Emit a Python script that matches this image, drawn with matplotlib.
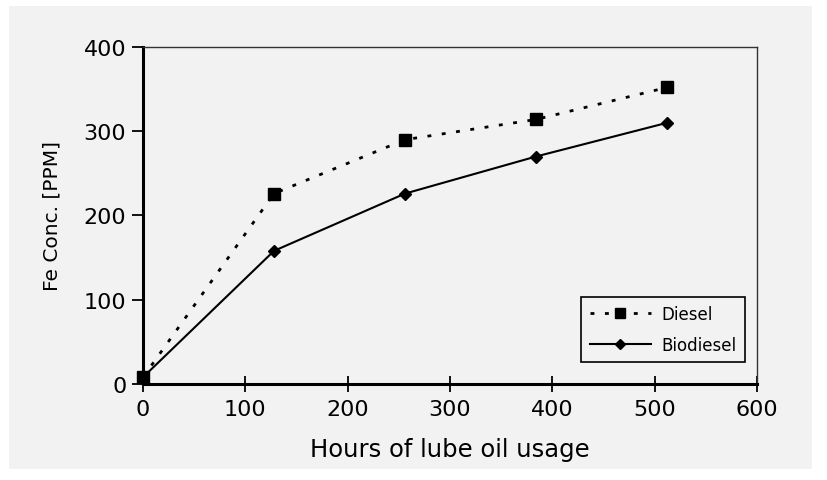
import matplotlib.pyplot as plt
from matplotlib.patches import Rectangle

plt.rcParams['font.family'] = ['DejaVu Sans']

# lube oil samples
hours = [0, 128, 256, 384, 512]
diesel = [8, 226, 290, 314, 352]
biodiesel = [8, 158, 226, 270, 310]

bg = '#f2f2f2'
fig = plt.figure(figsize=(8.28, 4.81), dpi=100)
panel = Rectangle((0.0109, 0.0229), 0.9698, 0.9626, transform=fig.transFigure,
                  facecolor=bg, edgecolor='none', zorder=-10)
fig.add_artist(panel)

ax = fig.add_axes([0.1727, 0.1996, 0.7416, 0.7006])
ax.set_facecolor(bg)

ax.plot(hours, diesel, color='black', lw=2.0, dashes=(1.4, 3.8), marker='s', ms=8.5,
        label='Diesel', clip_on=False)
ax.plot(hours, biodiesel, '-', color='black', lw=1.5, marker='D', ms=6.5,
        label='Biodiesel', clip_on=False)

ax.set_xlim(0, 600)
ax.set_ylim(0, 400)
ax.set_xticks(range(0, 601, 100))
ax.set_yticks(range(0, 401, 100))
ax.tick_params(axis='x', direction='inout', length=12, width=1.3, labelsize=16, pad=5)
ax.tick_params(axis='y', direction='out', length=8, width=1.3, labelsize=16, pad=4)

for side in ('left', 'bottom'):
    ax.spines[side].set_linewidth(2.2)
for side in ('top', 'right'):
    ax.spines[side].set_linewidth(1.0)
    ax.spines[side].set_color('#333333')

ax.set_xlabel('Hours of lube oil usage', fontsize=17.5, labelpad=13)
ax.set_ylabel('Fe Conc. [PPM]', fontsize=14.5, labelpad=16)

leg = ax.legend(loc='lower right', bbox_to_anchor=(0.98, 0.065), fontsize=12, fancybox=False,
                edgecolor='black', facecolor=bg, framealpha=1, handlelength=3.7,
                handletextpad=0.6, borderpad=0.5, labelspacing=0.75, borderaxespad=0,
                markerscale=0.85)
leg.get_frame().set_linewidth(1.2)

fig.savefig('out.png', dpi=100)
